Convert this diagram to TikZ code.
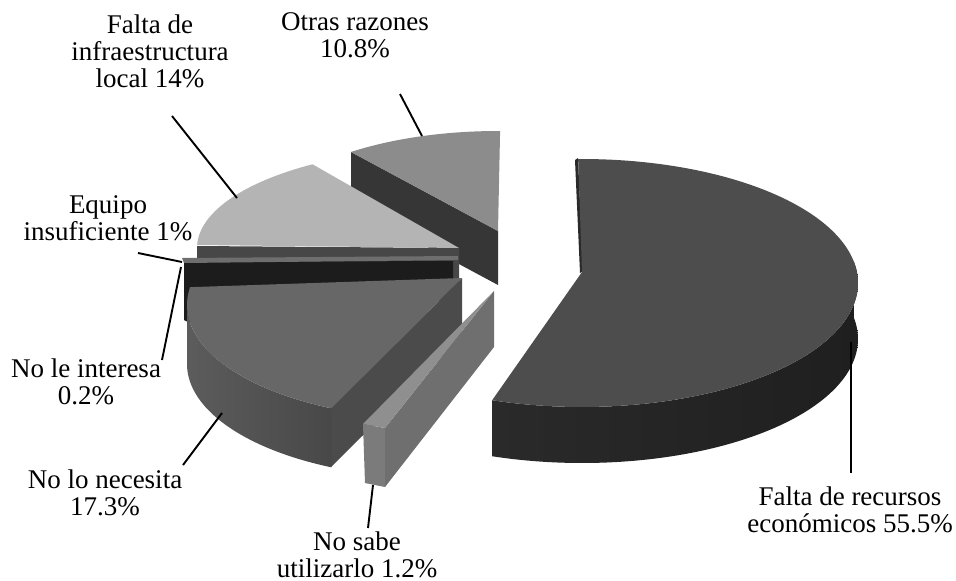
\documentclass[tikz,border=0pt]{standalone}
\usepackage{fontspec}
\setmainfont{Liberation Serif}
\definecolor{otop}{HTML}{8C8C8C}
\definecolor{oside}{HTML}{363636}
\definecolor{itop}{HTML}{B4B4B4}
\definecolor{iside}{HTML}{474747}
\definecolor{etop}{HTML}{6E6E6E}
\definecolor{eside}{HTML}{1C1C1C}
\definecolor{ntop}{HTML}{676767}
\definecolor{nrad}{HTML}{4B4B4B}
\definecolor{nsideL}{HTML}{5C5C5C}
\definecolor{nsideR}{HTML}{484848}
\definecolor{btop}{HTML}{4D4D4D}
\definecolor{bsideL}{HTML}{2A2A2A}
\definecolor{bsideR}{HTML}{1F1F1F}
\definecolor{stop}{HTML}{8F8F8F}
\definecolor{srad}{HTML}{6F6F6F}
\definecolor{sout}{HTML}{7B7B7B}
\begin{document}
\begin{tikzpicture}[x=1pt,y=-1pt,
  lbl/.style={font=\fontsize{27}{27}\selectfont, inner sep=0pt, anchor=base},
  leader/.style={draw=black, line width=1.9pt}]
\useasboundingbox (0,0) rectangle (956,581);

% --- Otras razones ---
\fill[oside] (351,152) -- (498,231) -- (498,285) -- (351,206) -- cycle;
\fill[otop] (498,231) -- plot[domain=232.2:270.5,samples=40] ({498+240*cos(\x)},{231+100*sin(\x)}) -- cycle;

% --- Falta de recursos economicos ---
\fill[bsideL] (575,160) -- (578,158) -- (583,271) -- (580,273) -- cycle;
\shade[left color=bsideL, right color=bsideR]
  plot[domain=350:469,samples=80] ({582+276*cos(\x)},{283+124*sin(\x)})
  -- plot[domain=469:350,samples=80] ({582+276*cos(\x)},{339+124*sin(\x)}) -- cycle;
\fill[btop] (582,272) -- plot[domain=269.2:469,samples=120] ({582+276*cos(\x)},{283+124*sin(\x)}) -- cycle;

% --- Falta de infraestructura ---
\fill[iside] (197,246) -- (459,248) -- (459,300) -- (197,300) -- cycle;
\fill[itop] (459,248) -- plot[domain=181.7:236,samples=50] ({459+262*cos(\x)},{248+101*sin(\x)}) -- cycle;

% --- Equipo insuficiente ---
\fill[eside] (184,262) -- (453,261) -- (453,300) -- (188,322) -- (184,320) -- cycle;
\fill[etop] (182,258) -- (458,256) -- (458,260) -- (184,263) -- cycle;

% --- No lo necesita ---
\fill[nrad] (462,278) -- (331,408) -- (331,467) -- (462,337) -- cycle;
\shade[left color=nsideL, right color=nsideR]
  plot[domain=180:115,samples=60] ({437+250*cos(\x)},{305+114*sin(\x)})
  -- plot[domain=115:180,samples=60] ({437+250*cos(\x)},{364+114*sin(\x)}) -- cycle;
\fill[ntop] (462,278) -- plot[domain=189:115,samples=70] ({437+250*cos(\x)},{305+114*sin(\x)}) -- cycle;

% --- No sabe utilizarlo ---
\fill[sout] (363,424) -- (385,428) -- (385,487) -- (365,483) -- cycle;
\fill[srad] (385,428) -- (494,291) -- (494,347) -- (385,487) -- cycle;
\fill[stop] (363,424) -- (385,428) -- (494,291) -- cycle;

% --- labels ---
\node[lbl] (lo) at (355,30) {\begin{tabular}[t]{@{}c@{}}Otras razones\\10.8\%\end{tabular}};
\node[lbl] (li) at (150,33) {\begin{tabular}[t]{@{}c@{}}Falta de\\infraestructura\\local 14\%\end{tabular}};
\node[lbl] (le) at (108,213) {\begin{tabular}[t]{@{}c@{}}Equipo\\insuficiente 1\%\end{tabular}};
\node[lbl] (lint) at (86,377) {\begin{tabular}[t]{@{}c@{}}No le interesa\\0.2\%\end{tabular}};
\node[lbl] (ln) at (105,488) {\begin{tabular}[t]{@{}c@{}}No lo necesita\\17.3\%\end{tabular}};
\node[lbl] (ls) at (357,550) {\begin{tabular}[t]{@{}c@{}}No sabe\\utilizarlo 1.2\%\end{tabular}};
\node[lbl] (lf) at (850,505) {\begin{tabular}[t]{@{}c@{}}Falta de recursos\\económicos 55.5\%\end{tabular}};

% --- leader lines ---
\coordinate (o1) at (400,94);   \coordinate (o2) at (422,136);
\coordinate (i1) at (172,116);  \coordinate (i2) at (237,198);
\coordinate (e1) at (138,253);  \coordinate (e2) at (182,262);
\coordinate (t1) at (162,360);  \coordinate (t2) at (181,267);
\coordinate (n1) at (183,465);  \coordinate (n2) at (222,413);
\coordinate (s1) at (368,528);  \coordinate (s2) at (373,485);
\coordinate (f1) at (851,473);  \coordinate (f2) at (851,342);
\draw[leader] (o1) -- (o2);
\draw[leader] (i1) -- (i2);
\draw[leader] (e1) -- (e2);
\draw[leader] (t1) -- (t2);
\draw[leader] (n1) -- (n2);
\draw[leader] (s1) -- (s2);
\draw[leader] (f1) -- (f2);
\end{tikzpicture}
\end{document}
